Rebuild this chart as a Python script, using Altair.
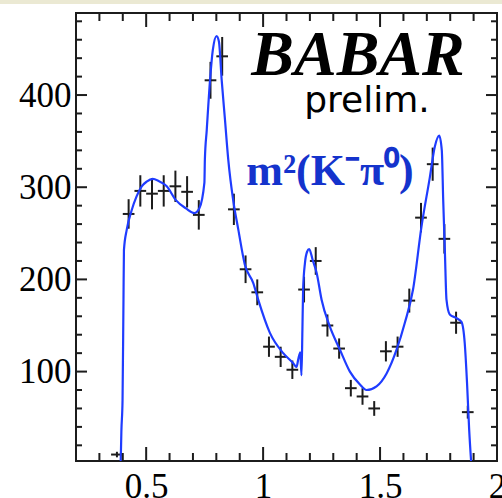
import altair as alt
import pandas as pd

# Binned m^2(K- pi0) distribution (GeV^2) with Poisson errors
mass2 = [0.375, 0.425, 0.475, 0.525, 0.575, 0.625, 0.675, 0.725, 0.775, 0.825,
         0.875, 0.925, 0.975, 1.025, 1.075, 1.125, 1.175, 1.225, 1.275, 1.325,
         1.375, 1.425, 1.475, 1.525, 1.575, 1.625, 1.675, 1.725, 1.775, 1.825,
         1.875]
counts = [10, 271, 296, 293, 296, 301, 295, 270, 416, 442,
          276, 211, 186, 127, 116, 102, 189, 220, 150, 125,
          82, 73, 60, 122, 127, 177, 267, 325, 244, 153,
          56]
errors = [3, 16, 17, 17, 17, 17, 17, 16, 20, 21,
          17, 15, 14, 11, 11, 10, 14, 15, 12, 11,
          9, 9, 8, 11, 11, 13, 16, 18, 16, 12,
          7]
half_bin = 0.025

# Dalitz fit projection
fit_x = [0.391, 0.394, 0.399, 0.403, 0.405, 0.417, 0.438, 0.459, 0.481, 0.502,
         0.528, 0.552, 0.588, 0.627, 0.670, 0.706, 0.727, 0.749, 0.751, 0.759,
         0.773, 0.785, 0.801, 0.811, 0.823, 0.837, 0.851, 0.872, 0.894, 0.922,
         0.958, 0.979, 1.029, 1.086, 1.129, 1.143, 1.150, 1.159, 1.164, 1.168,
         1.171, 1.179, 1.188, 1.197, 1.212, 1.229, 1.250, 1.285, 1.328, 1.371,
         1.414, 1.442, 1.485, 1.528, 1.571, 1.606, 1.641, 1.677, 1.713, 1.734,
         1.753, 1.764, 1.770, 1.777, 1.784, 1.798, 1.827, 1.848, 1.862, 1.872,
         1.881, 1.890]
fit_y = [0, 35, 69, 178, 232, 254, 275, 290, 301, 306,
         309, 307, 301, 286, 277, 272, 277, 305, 330, 362,
         416, 449, 464, 458, 416, 373, 330, 286, 254, 216,
         196, 178, 142, 120, 109, 105, 113, 121, 96, 145,
         189, 218, 230, 233, 221, 207, 178, 149, 124, 100,
         86, 80, 84, 98, 124, 153, 189, 257, 311, 344,
         356, 340, 286, 232, 178, 162, 158, 154, 131, 87,
         37, 0]

x_major = [0.5, 1.0, 1.5]
x_minor = [0.3, 0.4, 0.6, 0.7, 0.8, 0.9, 1.1, 1.2, 1.3, 1.4, 1.6, 1.7, 1.8, 1.9]
x_labels = [0.5, 1.0, 1.5, 2.0]
y_major = [100, 200, 300, 400]
y_minor = [20, 40, 60, 80, 120, 140, 160, 180, 220, 240, 260, 280,
           320, 340, 360, 380, 420, 440, 460, 480]

W, H = 421, 448
X_DOMAIN = [0.2, 2.0]
Y_DOMAIN = [3, 489]
SERIF = "Liberation Serif"

pts = pd.DataFrame({"m2": mass2, "n": counts, "err": errors})
pts["lo"] = pts["n"] - pts["err"]
pts["hi"] = pts["n"] + pts["err"]
pts["xl"] = pts["m2"] - half_bin
pts["xh"] = pts["m2"] + half_bin
fit = pd.DataFrame({"m2": fit_x, "n": fit_y})

xs = alt.Scale(domain=X_DOMAIN, nice=False, zero=False)
ys = alt.Scale(domain=Y_DOMAIN, nice=False, zero=False)

# Labels only: ticks and frame are drawn as marks so they point inward
x_axis = alt.Axis(values=x_labels, format="~g", ticks=False, tickSize=0,
                  domain=False, grid=False, labelFont=SERIF, labelFontSize=35,
                  labelColor="black", labelPadding=8, title=None,
                  labelOverlap=False, labelFlush=False)
y_axis = alt.Axis(values=y_major, format="d", ticks=False, tickSize=0,
                  domain=False, grid=False, labelFont=SERIF, labelFontSize=35,
                  labelColor="black", labelPadding=5, title=None)


def X(field):
    return alt.X(field, scale=xs, axis=x_axis, title=None)


def Y(field):
    return alt.Y(field, scale=ys, axis=y_axis, title=None)


ink = "#1c1c1c"

xbars = alt.Chart(pts).mark_rule(color=ink, strokeWidth=2).encode(
    x=X("xl:Q"), x2="xh:Q", y=Y("n:Q"),
)
ybars = alt.Chart(pts).mark_rule(color=ink, strokeWidth=2).encode(
    x=X("m2:Q"), y=Y("lo:Q"), y2="hi:Q",
)
curve = alt.Chart(fit).mark_line(color="#1f3cff", strokeWidth=2.2,
                                  interpolate="monotone", clip=True).encode(
    x=X("m2:Q"), y=Y("n:Q"),
)


def xticks(vals, length):
    df = pd.DataFrame({"t": vals})
    base = alt.Chart(df).mark_rule(color=ink, strokeWidth=2)
    bottom = base.encode(x=X("t:Q"), y=alt.value(H), y2=alt.value(H - length))
    top = base.encode(x=X("t:Q"), y=alt.value(0), y2=alt.value(length))
    return [bottom, top]


def yticks(vals, length):
    df = pd.DataFrame({"t": vals})
    base = alt.Chart(df).mark_rule(color=ink, strokeWidth=2)
    left = base.encode(y=Y("t:Q"), x=alt.value(0), x2=alt.value(length))
    right = base.encode(y=Y("t:Q"), x=alt.value(W), x2=alt.value(W - length))
    return [left, right]


one = pd.DataFrame({"a": [0]})

band = alt.Chart(one).mark_rect(color="#ebe9d3").encode(
    x=alt.value(-76), x2=alt.value(W + 5), y=alt.value(-13), y2=alt.value(-9)
)

babar = alt.Chart(one).mark_text(
    font=SERIF, fontWeight="bold", fontStyle="italic", fontSize=64,
    align="center", baseline="alphabetic", color="black"
).encode(x=alt.value(282), y=alt.value(62), text=alt.value("BABAR"))

prelim = alt.Chart(one).mark_text(
    font="DejaVu Sans", fontSize=36, align="center", baseline="alphabetic",
    color="black"
).encode(x=alt.value(291), y=alt.value(99), text=alt.value("prelim."))

label = alt.Chart(one).mark_text(
    font=SERIF, fontWeight="bold", fontSize=44, align="center",
    baseline="alphabetic", color="#1433cc"
).encode(x=alt.value(254), y=alt.value(172), text=alt.value("m²(K⁻π⁰)"))

layers = ([band, xbars, ybars, curve]
          + xticks(x_major, 14) + xticks(x_minor, 8)
          + yticks(y_major, 11) + yticks(y_minor, 6)
          + [babar, prelim, label])

chart = alt.layer(*layers).properties(
    width=W, height=H,
    autosize=alt.AutoSizeParams(type="none"),
    padding={"left": 76, "top": 13, "right": 5, "bottom": 37},
    background="white",
).configure_view(stroke=ink, strokeWidth=2)

chart.save("out.html", embed_options={"renderer": "svg", "actions": False})
